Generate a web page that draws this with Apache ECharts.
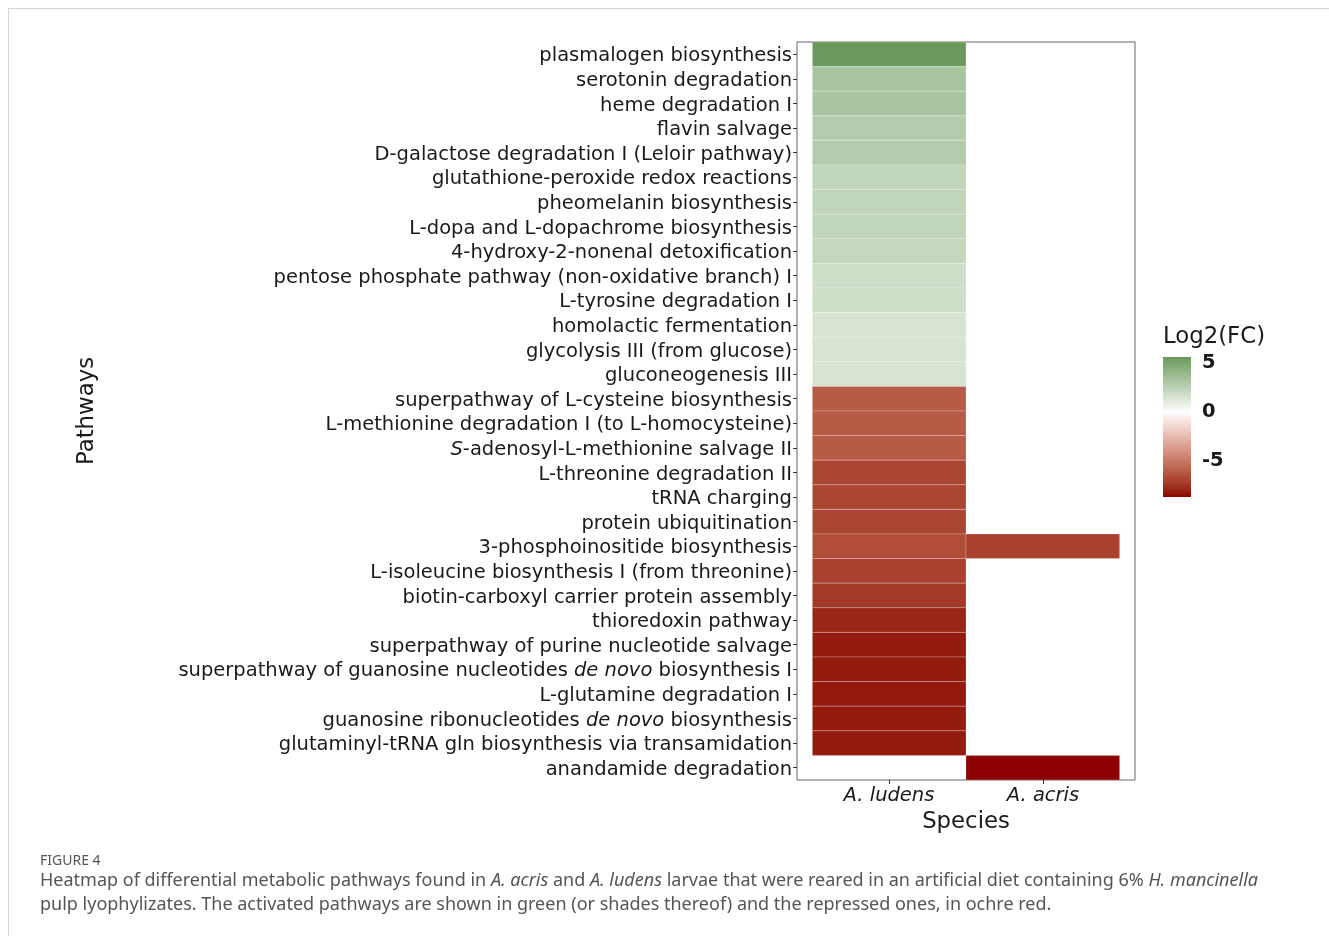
<!DOCTYPE html>
<html>
<head>
<meta charset="utf-8">
<script src="https://cdn.jsdelivr.net/npm/echarts@6/dist/echarts.min.js"></script>
<style>
  html, body { margin: 0; padding: 0; background: #fff; }
  #wrap { position: relative; width: 1329px; height: 936px; overflow: hidden; }
  #frame { position: absolute; left: 8px; top: 8px; right: 0; bottom: 0;
           border-top: 1px solid #d6d6d6; border-left: 1px solid #d6d6d6; }
  #chart { position: absolute; left: 0; top: 0; width: 1329px; height: 936px; }
</style>
</head>
<body>
<div id="wrap">
  <div id="frame"></div>
  <div id="chart"></div>
</div>
<script>
// Pathways, top to bottom; *...* marks italic text
const pathways = [
  'plasmalogen biosynthesis',
  'serotonin degradation',
  'heme degradation I',
  'flavin salvage',
  'D-galactose degradation I (Leloir pathway)',
  'glutathione-peroxide redox reactions',
  'pheomelanin biosynthesis',
  'L-dopa and L-dopachrome biosynthesis',
  '4-hydroxy-2-nonenal detoxification',
  'pentose phosphate pathway (non-oxidative branch) I',
  'L-tyrosine degradation I',
  'homolactic fermentation',
  'glycolysis III (from glucose)',
  'gluconeogenesis III',
  'superpathway of L-cysteine biosynthesis',
  'L-methionine degradation I (to L-homocysteine)',
  '*S*-adenosyl-L-methionine salvage II',
  'L-threonine degradation II',
  'tRNA charging',
  'protein ubiquitination',
  '3-phosphoinositide biosynthesis',
  'L-isoleucine biosynthesis I (from threonine)',
  'biotin-carboxyl carrier protein assembly',
  'thioredoxin pathway',
  'superpathway of purine nucleotide salvage',
  'superpathway of guanosine nucleotides *de novo* biosynthesis I',
  'L-glutamine degradation I',
  'guanosine ribonucleotides *de novo* biosynthesis',
  'glutaminyl-tRNA gln biosynthesis via transamidation',
  'anandamide degradation'
];

const species = ['A. ludens', 'A. acris'];

// Log2(FC) per pathway; null = not differential in that species
const ludensLog2FC = [
  5.6, 3.2, 3.2, 2.8, 2.8, 2.3, 2.3, 2.3, 2.2, 1.8,
  1.8, 1.55, 1.55, 1.55, -6.1, -6.1, -6.1, -6.85, -6.85, -6.85,
  -6.6, -7.0, -7.3, -7.9, -8.2, -8.2, -8.25, -8.2, -8.2, null
];
const acrisLog2FC = [
  null, null, null, null, null, null, null, null, null, null,
  null, null, null, null, null, null, null, null, null, null,
  -7.0, null, null, null, null, null, null, null, null, -8.66
];

const legendTicks = [5, 0, -5];
const FC_MIN = -8.66;
const FC_MAX = 5.6;

// ---- diverging colour scale, interpolated in CIE Lab ----
const LOW = '#8b0000', MID = '#ffffff', HIGH = '#6a9a5c';
function toLin(c) { c /= 255; return c <= 0.04045 ? c / 12.92 : Math.pow((c + 0.055) / 1.055, 2.4); }
function fromLin(c) {
  c = c <= 0.0031308 ? 12.92 * c : 1.055 * Math.pow(c, 1 / 2.4) - 0.055;
  return Math.round(Math.max(0, Math.min(1, c)) * 255);
}
function hexToLab(h) {
  const r = toLin(parseInt(h.slice(1, 3), 16)), g = toLin(parseInt(h.slice(3, 5), 16)), b = toLin(parseInt(h.slice(5, 7), 16));
  const X = (0.4124 * r + 0.3576 * g + 0.1805 * b) / 0.95047;
  const Y = (0.2126 * r + 0.7152 * g + 0.0722 * b);
  const Z = (0.0193 * r + 0.1192 * g + 0.9505 * b) / 1.08883;
  const f = t => t > 0.008856 ? Math.cbrt(t) : 7.787 * t + 16 / 116;
  const fx = f(X), fy = f(Y), fz = f(Z);
  return [116 * fy - 16, 500 * (fx - fy), 200 * (fy - fz)];
}
function labToRgb(L, a, b) {
  const fy = (L + 16) / 116, fx = fy + a / 500, fz = fy - b / 200;
  const inv = f => { const f3 = f * f * f; return f3 > 0.008856 ? f3 : (f - 16 / 116) / 7.787; };
  const X = inv(fx) * 0.95047, Y = inv(fy), Z = inv(fz) * 1.08883;
  const r = 3.2406 * X - 1.5372 * Y - 0.4986 * Z;
  const g = -0.9689 * X + 1.8758 * Y + 0.0415 * Z;
  const bb = 0.0557 * X - 0.2040 * Y + 1.0570 * Z;
  return 'rgb(' + fromLin(r) + ',' + fromLin(g) + ',' + fromLin(bb) + ')';
}
const labLow = hexToLab(LOW), labMid = hexToLab(MID), labHigh = hexToLab(HIGH);
function fcColor(v) {
  const end = v >= 0 ? labHigh : labLow;
  const t = Math.max(0, Math.min(1, v >= 0 ? v / FC_MAX : v / FC_MIN));
  return labToRgb(
    labMid[0] + (end[0] - labMid[0]) * t,
    labMid[1] + (end[1] - labMid[1]) * t,
    labMid[2] + (end[2] - labMid[2]) * t
  );
}

// ---- tile data: [speciesIndex, pathwayIndex, log2FC] ----
const tiles = [];
[ludensLog2FC, acrisLog2FC].forEach((vals, si) => {
  vals.forEach((v, pi) => { if (v !== null) tiles.push([si, pi, v]); });
});

const FONT = 'DejaVu Sans';
const TEXT = '#1a1a1a';
const TICK = '#333';
const LABEL_SIZE = 19.5;
const TITLE_SIZE = 22.8;

function markup(s) {
  return s.replace(/\*([^*]+)\*/g, '{i|$1}');
}

const chart = echarts.init(document.getElementById('chart'), null, { renderer: 'canvas' });

// gradient stops for the colour bar (top = max)
const barStops = [];
for (let k = 0; k <= 60; k++) {
  const v = FC_MAX - (FC_MAX - FC_MIN) * k / 60;
  barStops.push({ offset: k / 60, color: fcColor(v) });
}

chart.setOption({
  animation: false,
  backgroundColor: 'transparent',
  textStyle: { fontFamily: FONT },
  grid: [
    // panel holding the tiles (x range padded by 0.6 of a column each side)
    { left: 797, top: 42, width: 338, height: 738, show: true, borderColor: '#666', borderWidth: 1, backgroundColor: '#fff' },
    // colour bar
    { left: 1163, top: 357, width: 28, height: 140, show: false },
    // species axis spanning the two tile columns
    { left: 812, top: 42, width: 308, height: 738, show: false }
  ],
  xAxis: [
    { gridIndex: 0, type: 'value', min: -0.6, max: 1.6, show: false },
    { gridIndex: 1, type: 'value', min: 0, max: 1, show: false },
    {
      gridIndex: 2, type: 'category', data: species, position: 'bottom', z: 5,
      name: 'Species', nameLocation: 'middle', nameGap: 15,
      nameTextStyle: { fontSize: TITLE_SIZE, color: TEXT, fontFamily: FONT },
      axisLine: { show: false, onZero: false },
      splitLine: { show: false },
      axisTick: { show: true, inside: false, length: 4, alignWithLabel: true, lineStyle: { color: TICK } },
      axisLabel: { margin: 6, fontSize: LABEL_SIZE, fontStyle: 'italic', color: TEXT, fontFamily: FONT }
    }
  ],
  yAxis: [
    {
      gridIndex: 0, type: 'category', data: pathways, inverse: true, position: 'left', z: 5,
      name: 'Pathways', nameLocation: 'middle', nameGap: 698, nameRotate: 90,
      nameTextStyle: { fontSize: TITLE_SIZE, color: TEXT, fontFamily: FONT },
      axisLine: { show: false, onZero: false },
      splitLine: { show: false },
      axisTick: { show: true, length: 4, alignWithLabel: true, lineStyle: { color: TICK } },
      axisLabel: {
        margin: 5, fontSize: LABEL_SIZE, color: TEXT, fontFamily: FONT, interval: 0,
        padding: [4, 0, 0, 0],
        formatter: s => markup(s),
        rich: { i: { fontStyle: 'italic', fontSize: LABEL_SIZE, color: TEXT, fontFamily: FONT } }
      }
    },
    {
      gridIndex: 1, type: 'value', min: FC_MIN, max: FC_MAX, position: 'right',
      axisLine: { show: false, onZero: false }, splitLine: { show: false },
      axisTick: { show: true, inside: true, length: 5, customValues: legendTicks, lineStyle: { color: '#fff', width: 1 } },
      axisLabel: {
        customValues: legendTicks, margin: 11, padding: [4, 0, 0, 0],
        fontSize: LABEL_SIZE, fontWeight: 'bold', color: TEXT, fontFamily: FONT
      }
    },
    {
      gridIndex: 1, type: 'value', min: FC_MIN, max: FC_MAX, position: 'left',
      axisLine: { show: false, onZero: false }, splitLine: { show: false },
      axisTick: { show: true, inside: true, length: 5, customValues: legendTicks, lineStyle: { color: '#fff', width: 1 } },
      axisLabel: { show: false }
    },
    { gridIndex: 2, type: 'value', min: 0, max: 1, show: false }
  ],
  series: [
    {
      type: 'custom',
      xAxisIndex: 0, yAxisIndex: 0,
      data: tiles,
      encode: { x: 0, y: 1 },
      renderItem: (params, api) => {
        const c = api.coord([api.value(0), api.value(1)]);
        const s = api.size([1, 1]);
        return {
          type: 'rect',
          shape: { x: c[0] - s[0] / 2, y: c[1] - s[1] / 2, width: s[0], height: s[1] },
          style: { fill: fcColor(api.value(2)), stroke: 'rgba(255,255,255,0.22)', lineWidth: 1 }
        };
      },
      z: 2
    },
    {
      type: 'custom',
      xAxisIndex: 1, yAxisIndex: 1,
      data: [[0, 0]],
      renderItem: (params, api) => {
        const cs = params.coordSys;
        return {
          type: 'rect',
          shape: { x: cs.x, y: cs.y, width: cs.width, height: cs.height },
          style: { fill: { type: 'linear', x: 0, y: 0, x2: 0, y2: 1, colorStops: barStops } },
          z2: -1
        };
      },
      z: 1
    }
  ],
  graphic: [
    { type: 'text', left: 1163, top: 326, style: { text: 'Log2(FC)', fontSize: TITLE_SIZE, fill: TEXT, fontFamily: FONT } },
    { type: 'text', left: 40, top: 854, style: { text: 'FIGURE 4', fontSize: 14, fill: '#555', fontFamily: 'Noto Sans' } },
    {
      type: 'text', left: 40, top: 869,
      style: {
        text: 'Heatmap of differential metabolic pathways found in {i|A. acris} and {i|A. ludens} larvae that were reared in an artificial diet containing 6% {i|H. mancinella}\npulp lyophylizates. The activated pathways are shown in green (or shades thereof) and the repressed ones, in ochre red.',
        fontSize: 18, lineHeight: 24, fill: '#555', fontFamily: 'Noto Sans',
        rich: { i: { fontStyle: 'italic', fontSize: 18, lineHeight: 24, fill: '#555', fontFamily: 'Noto Sans' } }
      }
    }
  ]
});
</script>
</body>
</html>
